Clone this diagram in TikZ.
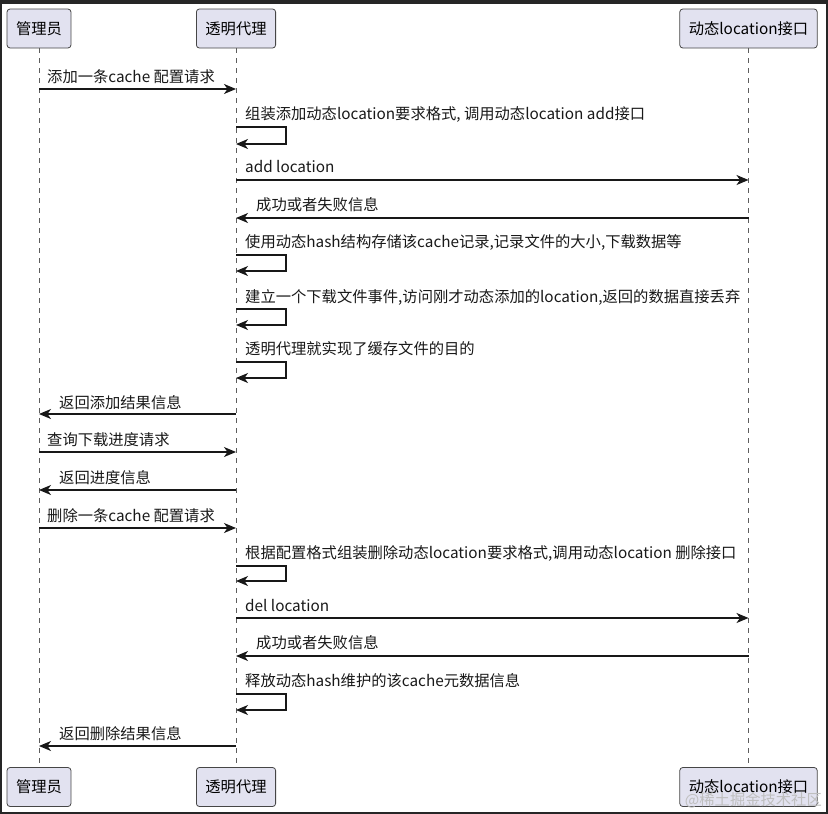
\documentclass[tikz,border=0pt]{standalone}
\usepackage{fontspec}
\setmainfont{Noto Sans CJK SC}
\usetikzlibrary{arrows.meta}
\definecolor{boxfill}{HTML}{E2E2F0}
\definecolor{ink}{HTML}{181818}
\tikzset{
  part/.style={draw=ink!80, fill=boxfill, rounded corners=3pt, line width=0.8pt,
    minimum height=39pt, inner xsep=9pt, font=\fontsize{15.3}{17}\selectfont},
  life/.style={draw=ink!70, line width=0.6pt, dash pattern=on 5pt off 5pt},
  msg/.style={draw=ink, line width=1.1pt, -{Stealth[length=12pt,width=10pt,inset=3.5pt]}},
  lbl/.style={anchor=west, inner sep=0pt, font=\fontsize{15.3}{17}\selectfont, text=black!90},
}
\begin{document}
\begin{tikzpicture}[x=1pt,y=-1pt]
\useasboundingbox (0,0) rectangle (828,814);
\fill[black!85] (0,0) rectangle (828,814);
\fill[white] (2,3.5) rectangle (826,812);
% participants
\node[part] (a1) at (39,28.5) {管理员};
\node[part] (p1) at (236,28.5) {透明代理};
\node[part] (l1) at (748.5,28.5) {动态location接口};
\node[part] (a2) at (39,787) {管理员};
\node[part] (p2) at (236,787) {透明代理};
\node[part] (l2) at (748.5,787) {动态location接口};
\draw[life] (a1.south) -- (a2.north);
\draw[life] (p1.south) -- (p2.north);
\draw[life] (l1.south) -- (l2.north);
% messages
\draw[msg] (a1 |- 0,89) -- (p1 |- 0,89);
\node[lbl] (t1) at (47,77) {添加一条cache 配置请求};
\node[lbl] (t2) at (245,114) {组装添加动态location要求格式, 调用动态location add接口};
\draw[msg] (p1 |- 0,127) -- (286,127) -- (286,144) -- (p1 |- 0,144);
\draw[msg] (p1 |- 0,180) -- (l1 |- 0,180);
\node[lbl] (t3) at (245,167) {add location};
\draw[msg] (l1 |- 0,218) -- (p1 |- 0,218);
\node[lbl] (t4) at (256,205) {成功或者失败信息};
\node[lbl] (t5) at (245,242) {使用动态hash结构存储该cache记录,记录文件的大小,下载数据等};
\draw[msg] (p1 |- 0,255) -- (286,255) -- (286,271) -- (p1 |- 0,271);
\node[lbl] (t6) at (245,297) {建立一个下载文件事件,访问刚才动态添加的location,返回的数据直接丢弃};
\draw[msg] (p1 |- 0,309) -- (286,309) -- (286,325) -- (p1 |- 0,325);
\node[lbl] (t7) at (245,349) {透明代理就实现了缓存文件的目的};
\draw[msg] (p1 |- 0,362) -- (286,362) -- (286,378) -- (p1 |- 0,378);
\draw[msg] (p1 |- 0,414) -- (a1 |- 0,414);
\node[lbl] (t8) at (59,403) {返回添加结果信息};
\draw[msg] (a1 |- 0,452) -- (p1 |- 0,452);
\node[lbl] (t9) at (47,440) {查询下载进度请求};
\draw[msg] (p1 |- 0,490) -- (a1 |- 0,490);
\node[lbl] (t10) at (59,478) {返回进度信息};
\draw[msg] (a1 |- 0,528) -- (p1 |- 0,528);
\node[lbl] (t11) at (47,516) {删除一条cache 配置请求};
\node[lbl] (t12) at (245,553) {根据配置格式组装删除动态location要求格式,调用动态location 删除接口};
\draw[msg] (p1 |- 0,566) -- (286,566) -- (286,581) -- (p1 |- 0,581);
\draw[msg] (p1 |- 0,618) -- (l1 |- 0,618);
\node[lbl] (t13) at (245,606) {del location};
\draw[msg] (l1 |- 0,656) -- (p1 |- 0,656);
\node[lbl] (t14) at (256,643) {成功或者失败信息};
\node[lbl] (t15) at (245,681) {释放动态hash维护的该cache元数据信息};
\draw[msg] (p1 |- 0,694) -- (286,694) -- (286,710) -- (p1 |- 0,710);
\draw[msg] (p1 |- 0,746) -- (a1 |- 0,746);
\node[lbl] (t16) at (59,734) {返回删除结果信息};
% watermark
\node[lbl, text=black!25, anchor=east] (wm) at (822,800) {@稀土掘金技术社区};
\end{tikzpicture}
\end{document}
